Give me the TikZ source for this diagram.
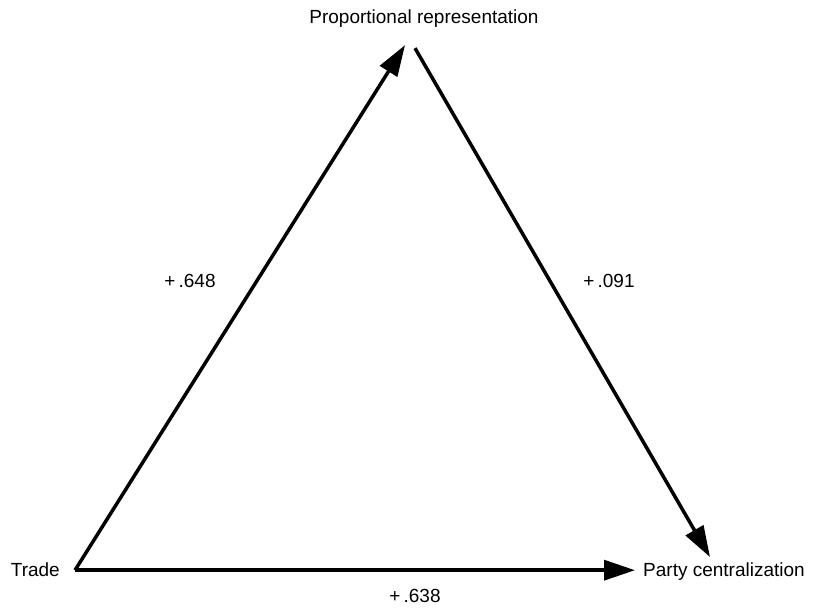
\documentclass[tikz,border=0pt]{standalone}
\usepackage{fontspec}
\setmainfont{Liberation Sans}
\usetikzlibrary{arrows.meta}

\begin{document}
\begin{tikzpicture}[x=1pt,y=-1pt,font=\fontsize{19}{22}\selectfont,
        link/.style={line width=3.5pt,-{Triangle[length=31pt,width=20pt]}}]
            \useasboundingbox (0,0) rectangle (815,609);
            \node[anchor=base east,inner xsep=15pt] (trade) at (75,577) {Trade};
            \node[anchor=base west,inner xsep=8pt,inner ysep=6pt] (party) at (635,577) {Party centralization};
            \node[anchor=base,inner ysep=17pt] (prop) at (424,24) {Proportional representation};
            % path coefficients
            \node[anchor=base] (c-tp) at (190,288) {+\,.648};
            \node[anchor=base] (c-pp) at (609,288) {+\,.091};
            \node[anchor=base] (c-tc) at (415,603) {+\,.638};
            \draw[link] (trade.east) -- ([xshift=-19pt]prop.south);
            \draw[link] ([xshift=-9pt,yshift=-3pt]prop.south) -- ([xshift=75pt]party.north west);
            \draw[link] (trade.east) -- (trade.east -| party.west);
        \end{tikzpicture}
\end{document}
